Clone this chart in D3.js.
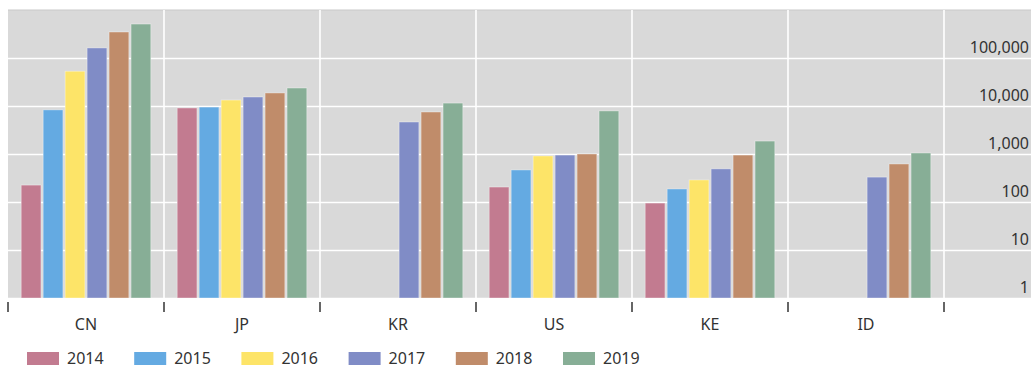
<!DOCTYPE html>
<html>
<head>
<meta charset="utf-8">
<script src="https://cdn.jsdelivr.net/npm/d3@7"></script>
<style>
  html, body { margin: 0; padding: 0; background: #fff; }
  text { font-family: "Noto Sans", "Open Sans", sans-serif; }
</style>
</head>
<body>
<div id="chart"></div>
<script>
// data (log scale, missing years are null)
var countries = ["CN", "JP", "KR", "US", "KE", "ID"];
var years = ["2014", "2015", "2016", "2017", "2018", "2019"];
var colors = ["#c27b90", "#64aae2", "#fde468", "#808cc6", "#c08c6a", "#87ae96"];

var v2014 = [225, 9100, null, 205, 95, null];
var v2015 = [8300, 9500, null, 465, 187, null];
var v2016 = [53000, 13300, null, 910, 288, null];
var v2017 = [162000, 15400, 4640, 950, 490, 330];
var v2018 = [348000, 18700, 7500, 1000, 950, 620];
var v2019 = [510000, 23700, 11500, 7900, 1860, 1050];
var series = [v2014, v2015, v2016, v2017, v2018, v2019];

var yTicks = [1, 10, 100, 1000, 10000, 100000];
var yTickLabels = ["1", "10", "100", "1,000", "10,000", "100,000"];

var width = 1031, height = 369;
var plotLeft = 8, plotRight = 944, plotTop = 10, plotBottom = 298;

var svg = d3.select("#chart").append("svg")
    .attr("width", width)
    .attr("height", height);

// scales
var x = d3.scaleBand().domain(countries).range([plotLeft, plotRight]);
var x1 = d3.scaleBand().domain(years).range([0, x.bandwidth()])
    .paddingInner(0.1).paddingOuter(0.6);
var y = d3.scaleLog().domain([1, 1e6]).range([plotBottom, plotTop]);

// background
svg.append("rect")
    .attr("x", plotLeft).attr("y", plotTop)
    .attr("width", width - plotLeft).attr("height", plotBottom - plotTop)
    .attr("fill", "#d9d9d9");
svg.append("line")
    .attr("x1", plotLeft).attr("x2", width)
    .attr("y1", plotTop).attr("y2", plotTop)
    .attr("stroke", "#c9c9c9");

// horizontal gridlines
svg.append("g")
    .attr("transform", "translate(" + plotLeft + ",0)")
    .call(d3.axisRight(y).tickValues(yTicks).tickSize(width - plotLeft).tickFormat(""))
    .call(function (g) {
        g.select(".domain").remove();
        g.selectAll("line").attr("stroke", "#fff").attr("stroke-width", 1.6);
    });

// vertical separators at the right edge of every band
svg.append("g")
    .selectAll("line")
    .data(countries)
    .join("line")
    .attr("x1", function (d) { return x(d) + x.bandwidth(); })
    .attr("x2", function (d) { return x(d) + x.bandwidth(); })
    .attr("y1", plotTop).attr("y2", plotBottom)
    .attr("stroke", "#fff").attr("stroke-width", 1.6);

// bars
years.forEach(function (yr, s) {
    svg.append("g")
        .selectAll("rect")
        .data(series[s].map(function (v, i) { return { c: countries[i], v: v }; })
            .filter(function (d) { return d.v != null; }))
        .join("rect")
        .attr("x", function (d) { return x(d.c) + x1(yr); })
        .attr("width", x1.bandwidth())
        .attr("y", function (d) { return y(d.v); })
        .attr("height", function (d) { return plotBottom - y(d.v); })
        .attr("fill", colors[s])
        .attr("stroke", "rgba(255,255,255,0.45)")
        .attr("stroke-width", 0.8);
});

// y labels on the right
svg.append("g")
    .attr("transform", "translate(1029,0)")
    .call(d3.axisLeft(y).tickValues(yTicks).tickSize(0)
        .tickFormat(function (d, i) { return yTickLabels[i]; }))
    .call(function (g) {
        g.select(".domain").remove();
        g.selectAll("text")
            .attr("x", 0).attr("dy", "-0.35em")
            .attr("text-anchor", "end")
            .attr("font-size", 16)
            .attr("font-family", "Noto Sans")
            .attr("fill", "#333");
    });

// category axis with ticks at band edges
var edges = countries.map(function (c) { return x(c); }).concat([plotRight]);
svg.append("g")
    .selectAll("line")
    .data(edges)
    .join("line")
    .attr("x1", function (d) { return d; })
    .attr("x2", function (d) { return d; })
    .attr("y1", 302).attr("y2", 312)
    .attr("stroke", "#333").attr("stroke-width", 1.5);

svg.append("g")
    .selectAll("text")
    .data(countries)
    .join("text")
    .attr("x", function (d) { return x(d) + x.bandwidth() / 2; })
    .attr("y", 330)
    .attr("text-anchor", "middle")
    .attr("font-size", 16)
    .attr("fill", "#333")
    .text(function (d) { return d; });

// legend
var legend = svg.append("g").selectAll("g")
    .data(years)
    .join("g")
    .attr("transform", function (d, i) { return "translate(" + (27 + i * 107.2) + ",352)"; });
legend.append("rect")
    .attr("width", 32).attr("height", 13)
    .attr("fill", function (d, i) { return colors[i]; });
legend.append("text")
    .attr("x", 40).attr("y", 12)
    .attr("font-size", 16)
    .attr("fill", "#333")
    .text(function (d) { return d; });
</script>
</body>
</html>
